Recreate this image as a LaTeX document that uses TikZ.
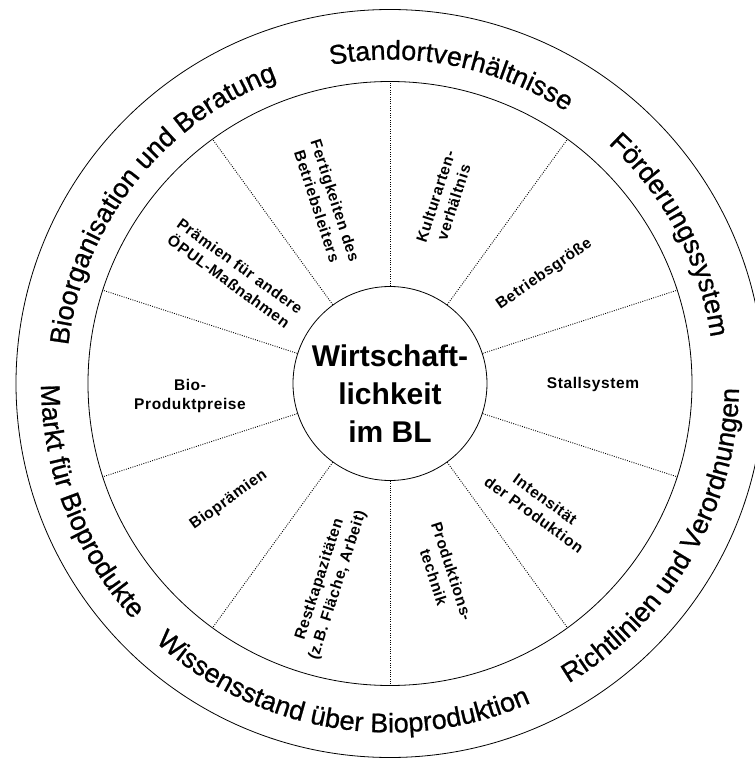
\documentclass[tikz,border=0pt]{standalone}
\usepackage{fontspec}
\setmainfont{Liberation Sans}
\newfontfamily\sectorfam[LetterSpace=4]{Liberation Sans}
\newfontfamily\ringfam[FakeBold=0.7]{Liberation Sans}
\usetikzlibrary{decorations.text}
\newcommand{\ringfont}{\ringfam\fontsize{27}{30}\selectfont}
\newcommand{\sectorfont}{\sectorfam\bfseries\fontsize{15.5}{19}\selectfont}
\newcommand{\corefont}{\bfseries\fontsize{30}{38}\selectfont}
\tikzset{
    ringline/.style={line width=0.8pt},
    divider/.style={line width=0.9pt, dash pattern=on 0.9pt off 1.4pt},
    sector/.style={align=center, inner sep=0pt, font=\sectorfont},
    ringtext/.style={decorate,
        decoration={text along path, text align=center, text={|\ringfont|#1}}}
}

\begin{document}
\begin{tikzpicture}[x=1pt,y=1pt]
    \useasboundingbox (-390,-374.5) rectangle (365,383.5);
    \draw[ringline] (0,0) circle[radius=374];
    \draw[ringline] (0,0) circle[radius=302];
    \node[draw, circle, ringline, minimum size=194pt, inner sep=0pt] (core) at (0,0) {};
    \node[align=center, font=\corefont] (coretext) at ([yshift=-10.5pt]core.center) {Wirtschaft-\\lichkeit\\im BL};
    % dividers
    \foreach \a in {90,54,18,342,306,270,234,198,162,126}
        \draw[divider] (core.\a) -- (\a:302);
    % inner sectors
    \node[sector, rotate=72] (kultur) at (73.5:192) {Kulturarten-\\verhältnis};
    \node[sector, rotate=35] (groesse) at (35.3:189) {Betriebsgröße};
    \node[sector] (stall) at (-0.4:203) {Stallsystem};
    \node[sector, rotate=-36] (intens) at (-39.5:194) {Intensität\\der Produktion};
    \node[sector, rotate=-72] (technik) at (-74.5:198) {Produktions-\\technik};
    \node[sector, rotate=72] (restkap) at (-107.1:208) {Restkapazitäten\\(z.B. Fläche, Arbeit)};
    \node[sector, rotate=36] (bioprae) at (-144.2:199) {Bioprämien};
    \node[sector] (preise) at (-200,-12) {Bio-\\Produktpreise};
    \node[sector, rotate=-36] (oepul) at (144.8:190.5) {Prämien für andere\\ÖPUL-Maßnahmen};
    \node[sector, rotate=-72] (fertig) at (109.5:191) {Fertigkeiten des\\Betriebsleiters};
    % outer ring
    \path[ringtext={Bioorganisation und Beratung}] (191.8:324) arc[start angle=191.8, end angle=91.8, radius=324];
    \path[ringtext={Standortverhältnisse}] (128.8:324) arc[start angle=128.8, end angle=28.8, radius=324];
    \path[ringtext={Förderungssystem}] (77.9:324) arc[start angle=77.9, end angle=-22.1, radius=324];
    \path[ringtext={Markt für Bioprodukte}] (151.4:349) arc[start angle=151.4, end angle=251.4, radius=349];
    \path[ringtext={Wissensstand über Bioproduktion}] (-149.2:349) arc[start angle=-149.2, end angle=-49.2, radius=349];
    \path[ringtext={Richtlinien und Verordnungen}] (-80:349) arc[start angle=-80, end angle=20, radius=349];
\end{tikzpicture}
\end{document}
